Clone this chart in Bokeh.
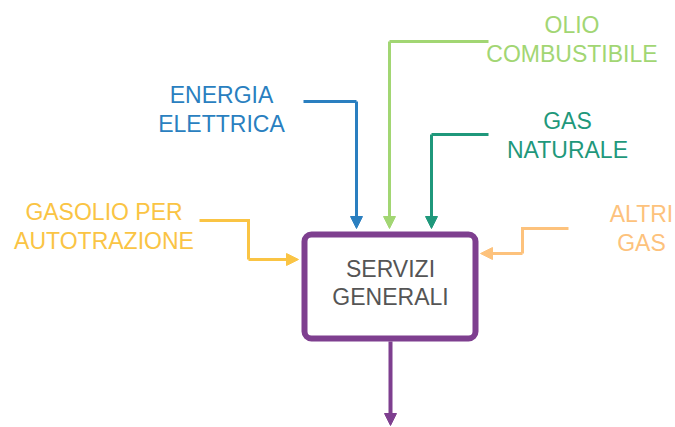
from bokeh.plotting import figure
from bokeh.models import Range1d, Arrow, NormalHead
from bokeh.core.properties import value
from bokeh.embed import file_html
from bokeh.resources import INLINE

# ---- diagram data (image pixel coordinates) ----
W, H = 675, 427
OFF = 0

source_labels = [["ENERGIA", "ELETTRICA"], ["OLIO", "COMBUSTIBILE"], ["GAS", "NATURALE"],
                 ["GASOLIO PER", "AUTOTRAZIONE"], ["ALTRI", "GAS"]]
source_colors = ["#2a7fc0", "#a2d673", "#1f987b", "#fac444", "#fdc27c"]
label_x = [221, 571.5, 567, 103.5, 641]
label_y = [94, 24.5, 120, 211.5, 213]  # first line position
line_gap = 29

path_x = [[303, 356, 356], [488, 389, 389], [488, 431, 431], [199, 248, 248, 298], [568, 522, 522, 480]]
path_y = [[101, 101, 228], [41, 41, 228], [134, 134, 228], [220, 220, 259, 259], [228, 228, 253, 253]]

box_label = ["SERVIZI", "GENERALI"]
box_color = "#7e3f8f"
box_left, box_right, box_top, box_bottom = 304, 475, 234, 338
box_label_x = 390
box_label_y = 268.5
out_x = [390, 390]
out_y = [341, 425]

FONT = "Liberation Sans"

p = figure(width=W, height=H, output_backend="svg", toolbar_location=None,
           x_range=Range1d(OFF, OFF + W), y_range=Range1d(OFF + H, OFF),
           min_border=0)
p.xaxis.visible = False
p.yaxis.visible = False
p.xgrid.visible = False
p.ygrid.visible = False
p.outline_line_color = None
p.background_fill_color = "white"
p.border_fill_color = "white"

# input arrows
for xs, ys, col in zip(path_x, path_y, source_colors):
    p.line(xs[:-1], ys[:-1], line_color=col, line_width=3, line_join="miter")
    p.add_layout(Arrow(end=NormalHead(size=12, fill_color=col, line_color=col, line_width=1),
                       x_start=xs[-2], y_start=ys[-2], x_end=xs[-1], y_end=ys[-1],
                       line_color=col, line_width=3))

# labels
for lines, col, x, y in zip(source_labels, source_colors, label_x, label_y):
    p.text(x=[x] * len(lines), y=[y + i * line_gap for i in range(len(lines))], text=lines,
           text_color=col, text_font=value(FONT), text_font_size="23px",
           text_align="center", text_baseline="alphabetic")

# central box
p.quad(left=[box_left], right=[box_right], top=[box_top], bottom=[box_bottom],
       fill_color="white", line_color=box_color, line_width=6, border_radius=7)
p.text(x=[box_label_x] * 2, y=[box_label_y, box_label_y + 28], text=box_label,
       text_color="#555555", text_font=value(FONT), text_font_size="23px",
       text_align="center", text_baseline="alphabetic")

# output arrow
p.add_layout(Arrow(end=NormalHead(size=12, fill_color=box_color, line_color=box_color, line_width=1),
                   x_start=out_x[0], y_start=out_y[0], x_end=out_x[1], y_end=out_y[1],
                   line_color=box_color, line_width=4))

open("out.html", "w").write(file_html(p, INLINE))
